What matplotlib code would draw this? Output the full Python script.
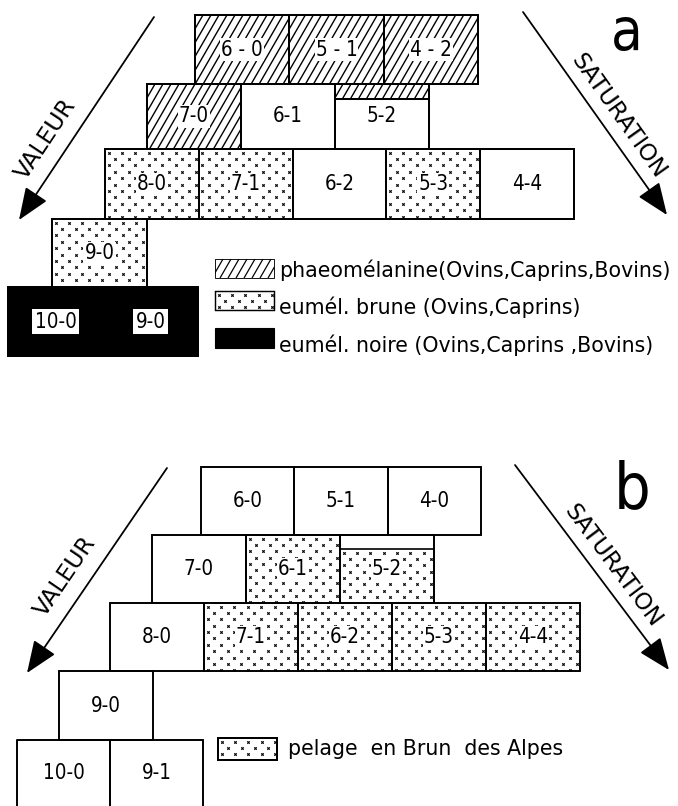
import matplotlib
matplotlib.use("Agg")
import matplotlib.pyplot as plt
from matplotlib.patches import Rectangle
from matplotlib.collections import LineCollection
import numpy as np

# ------------------------------------------------------------------ data
a_row_labels = [
    ["6 - 0", "5 - 1", "4 - 2"],
    ["7-0", "6-1", "5-2"],
    ["8-0", "7-1", "6-2", "5-3", "4-4"],
    ["9-0"],
    ["10-0", "9-0"],
]
a_row_fills = [
    ["phaeo", "phaeo", "phaeo"],
    ["phaeo", "blank", "phaeo_top"],
    ["brune", "brune", "blank", "brune", "blank"],
    ["brune"],
    ["noire", "noire"],
]
a_legend_keys = ["phaeo", "brune", "noire"]
a_legend_texts = [
    "phaeomélanine(Ovins,Caprins,Bovins)",
    "eumél. brune (Ovins,Caprins)",
    "eumél. noire (Ovins,Caprins ,Bovins)",
]

b_row_labels = [
    ["6-0", "5-1", "4-0"],
    ["7-0", "6-1", "5-2"],
    ["8-0", "7-1", "6-2", "5-3", "4-4"],
    ["9-0"],
    ["10-0", "9-1"],
]
b_row_fills = [
    ["blank", "blank", "blank"],
    ["blank", "brune", "brune_low"],
    ["blank", "brune", "brune", "brune", "brune"],
    ["blank"],
    ["blank", "blank"],
]
b_legend_keys = ["brune"]
b_legend_texts = ["pelage  en Brun  des Alpes"]

axis_names = ["VALEUR", "SATURATION"]
panel_letters = ["a", "b"]

# ---------------------------------------------------------------- layout
# (x_left, x_right, y_top, y_bottom) of each row, in pixel units
A_ROWS = [(195, 478, 15, 84), (147, 429, 84, 149), (105, 574, 149, 219),
          (52, 147, 219, 287), (8, 198, 287, 356)]
B_ROWS = [(201, 481, 467, 535), (152, 434, 535, 603), (110, 580, 603, 671),
          (59, 153, 671, 740), (17, 203, 740, 815)]
STRIP_A = 15
STRIP_B = 14

W, H, DPI = 678, 806, 80
fig = plt.figure(figsize=(W / DPI, H / DPI), dpi=DPI)
ax = fig.add_axes([0, 0, 1, 1])
ax.set_xlim(0, W)
ax.set_ylim(H, 0)
ax.axis("off")

LABEL_FONT = dict(family="DejaVu Sans", fontstretch="condensed", fontsize=18.5)
LEG_FONT = dict(family="DejaVu Sans", fontsize=18.5)


def hatch_lines(x0, x1, y0, y1, clip, lw=1.25):
    h = y1 - y0
    cot = 1.0 / np.tan(np.radians(60))
    sp = 8.0
    starts = np.arange(x0 - h * cot - sp, x1 + sp, sp)
    segs = [[(s, y1), (s + h * cot, y0)] for s in starts]
    lc = LineCollection(segs, colors="k", linewidths=lw, zorder=2)
    ax.add_collection(lc)
    lc.set_clip_path(clip)


def dot_field(x0, x1, y0, y1, clip):
    xs, ys = [], []
    rows = np.arange(y0 + 3.5, y1, 6.4)
    for i, y in enumerate(rows):
        cols = np.arange(x0 + 3.5 + (i % 2) * 6.7, x1, 13.4)
        xs.extend(cols)
        ys.extend([y] * len(cols))
    ln, = ax.plot(xs, ys, linestyle="none", marker="x", ms=2.2, mew=1.0,
                  color="k", zorder=2)
    ln.set_clip_path(clip)


def cell(x0, x1, y0, y1, kind, lw, strip):
    face = "k" if kind == "noire" else "white"
    r = Rectangle((x0, y0), x1 - x0, y1 - y0, facecolor=face, edgecolor="k",
                  lw=lw, zorder=1)
    ax.add_patch(r)
    if kind == "phaeo":
        hatch_lines(x0, x1, y0, y1, r)
    elif kind == "brune":
        dot_field(x0, x1, y0, y1, r)
    elif kind == "phaeo_top":
        s = Rectangle((x0, y0), x1 - x0, strip, facecolor="none",
                      edgecolor="k", lw=lw, zorder=3)
        ax.add_patch(s)
        hatch_lines(x0, x1, y0, y0 + strip, s)
    elif kind == "brune_low":
        s = Rectangle((x0, y0 + strip), x1 - x0, y1 - y0 - strip,
                      facecolor="none", edgecolor="k", lw=lw, zorder=3)
        ax.add_patch(s)
        dot_field(x0, x1, y0 + strip, y1, s)
    ax.add_patch(Rectangle((x0, y0), x1 - x0, y1 - y0, facecolor="none",
                           edgecolor="k", lw=lw, zorder=4))


def draw_panel(rows, labels, fills, lw, strip):
    for (xl, xr, yt, yb), labs, fls in zip(rows, labels, fills):
        n = len(labs)
        edges = np.linspace(xl, xr, n + 1)
        for i, (lab, kind) in enumerate(zip(labs, fls)):
            cell(edges[i], edges[i + 1], yt, yb, kind, lw, strip)
            cx = (edges[i] + edges[i + 1]) / 2
            cy = (yt + yb) / 2 if yb < H else yt + 33
            bbox = None
            if kind == "noire":
                bbox = dict(boxstyle="square,pad=0.12", fc="white", ec="none")
            elif kind in ("phaeo", "brune", "brune_low"):
                bbox = dict(boxstyle="square,pad=0.05", fc="white", ec="none")
            ax.text(cx, cy, lab, ha="center", va="center", zorder=6,
                    bbox=bbox, **LABEL_FONT)


def legend_patch(key, x0, x1, y0, y1, lw):
    if key == "noire":
        ax.add_patch(Rectangle((x0, y0), x1 - x0, y1 - y0, fc="k", ec="k",
                               lw=1.0, zorder=1))
        return
    r = Rectangle((x0, y0), x1 - x0, y1 - y0, fc="white", ec="none",
                  zorder=1)
    ax.add_patch(r)
    if key == "phaeo":
        hatch_lines(x0, x1, y0, y1, r, lw=1.1)
    else:
        dot_field(x0, x1, y0, y1, r)
    ax.add_patch(Rectangle((x0, y0), x1 - x0, y1 - y0, fc="none", ec="k",
                           lw=lw, zorder=3))


# ---------------------------------------------------------------- panel a
draw_panel(A_ROWS, a_row_labels, a_row_fills, 1.8, STRIP_A)

leg_a_y = [(259, 278), (291, 310), (328, 348)]
leg_a_base = [277, 314, 352]
for key, txt, (y0, y1), yb in zip(a_legend_keys, a_legend_texts, leg_a_y,
                                  leg_a_base):
    legend_patch(key, 215, 274, y0, y1, 0.8 if key == "phaeo" else 1.3)
    ax.text(279, yb, txt, ha="left", va="baseline", **LEG_FONT)

# ---------------------------------------------------------------- panel b
draw_panel(B_ROWS, b_row_labels, b_row_fills, 1.5, STRIP_B)

for key, txt in zip(b_legend_keys, b_legend_texts):
    legend_patch(key, 218, 277, 738, 760, 1.8)
    ax.text(288, 755, txt, ha="left", va="baseline", **LEG_FONT)

# ------------------------------------------------------------ axis arrows
ARROWS = [  # start, tip, text centre, rotation
    ((154, 17), (19, 220), (46, 139), 56.4),
    ((523, 12), (667, 215), (618, 116), -54.6),
    ((167, 468), (27, 673), (65, 576), 55.7),
    ((515, 465), (669, 670), (613, 566), -53.1),
]
for k, (st, tip, tc, rot) in enumerate(ARROWS):
    ax.annotate("", xy=tip, xytext=st,
                arrowprops=dict(arrowstyle="-|>,head_length=1.25,head_width=0.5",
                                lw=1.6, color="k", mutation_scale=20,
                                shrinkA=0, shrinkB=0))
    ax.text(tc[0], tc[1], axis_names[k % 2], rotation=rot, ha="center",
            va="center", rotation_mode="anchor", family="DejaVu Sans",
            fontsize=21)

ax.text(627, 50, panel_letters[0], ha="center", va="baseline",
        family="DejaVu Sans", fontstretch="condensed", fontsize=52)
ax.text(632, 508, panel_letters[1], ha="center", va="baseline",
        family="DejaVu Sans", fontstretch="condensed", fontsize=58)

fig.savefig("out.png", dpi=DPI, facecolor="white")
